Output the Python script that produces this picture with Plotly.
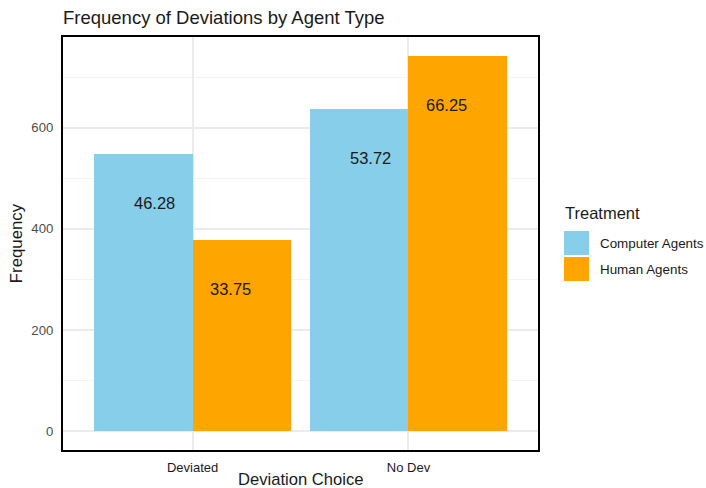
import plotly.graph_objects as go

categories = ["Deviated", "No Dev"]
treatments = ["Computer Agents", "Human Agents"]
computer_counts = [548, 636]
human_counts = [378, 742]
computer_pct = ["46.28", "53.72"]
human_pct = ["33.75", "66.25"]
colors = ["#87CEEB", "#FFA500"]

W, H = 706, 488
ML, MR, MT, MB = 63, 168, 37, 38
PW, PH = W - ML - MR, H - MT - MB


def px_x(px):
    return (px - ML) / PW


def px_y(py):
    return (H - MB - py) / PH


xpos = [0, 1]
offsets = [-0.2275, 0.2275]
label_offsets = [-0.177, 0.177]

fig = go.Figure()
series = [computer_counts, human_counts]
pcts = [computer_pct, human_pct]
for i, (name, vals) in enumerate(zip(treatments, series)):
    fig.add_trace(go.Bar(
        x=[p + offsets[i] for p in xpos], y=vals, name=name,
        width=0.455, marker=dict(color=colors[i], line=dict(width=0)),
        showlegend=False,
    ))
    for p, v, t in zip(xpos, vals, pcts[i]):
        fig.add_annotation(x=p + label_offsets[i], y=v, yshift=-49, text=t,
                           showarrow=False, yanchor="middle", xanchor="center",
                           font=dict(size=16.5, color="#1a1a1a"))

# manual legend (ggplot style, large keys)
fig.add_annotation(xref="paper", yref="paper", x=px_x(563), y=px_y(213),
                   text="Treatment", showarrow=False, xanchor="left", yanchor="middle",
                   font=dict(size=16.5, color="#1a1a1a"))
key_top = 230
key_h = 26
for i, name in enumerate(treatments):
    y0 = key_top + i * key_h
    fig.add_shape(type="rect", xref="paper", yref="paper",
                  x0=px_x(564), x1=px_x(589), y0=px_y(y0 + 1), y1=px_y(y0 + key_h - 1),
                  fillcolor=colors[i], line=dict(width=0))
    fig.add_annotation(xref="paper", yref="paper", x=px_x(598), y=px_y(y0 + key_h / 2),
                       text=name, showarrow=False, xanchor="left", yanchor="middle",
                       font=dict(size=13.4, color="#1a1a1a"))

# x-axis title
fig.add_annotation(xref="paper", yref="paper", x=0.5, y=px_y(479.5),
                   text="Deviation Choice", showarrow=False, xanchor="center", yanchor="middle",
                   font=dict(size=16.6, color="#1a1a1a"))

ymax = max(max(computer_counts), max(human_counts))
fig.update_layout(
    width=W, height=H,
    margin=dict(l=ML, r=MR, t=MT, b=MB),
    paper_bgcolor="white", plot_bgcolor="white",
    font=dict(family="Liberation Sans, Arial, sans-serif"),
    title=dict(text="Frequency of Deviations by Agent Type", xref="paper", x=0, xanchor="left",
               y=1 - 18 / H, yanchor="middle",
               font=dict(size=18.5, color="#1a1a1a")),
    barmode="overlay", bargap=0,
    showlegend=False,
)
fig.update_xaxes(
    range=[-0.6, 1.6], tickmode="array", tickvals=xpos, ticktext=categories,
    showgrid=True, gridcolor="#ebebeb", gridwidth=1.5,
    showline=True, linecolor="black", linewidth=2, mirror=True,
    ticks="outside", ticklen=4, tickcolor="rgba(0,0,0,0)",
    tickfont=dict(size=13, color="#1a1a1a"),
    zeroline=False, automargin=False,
)
fig.update_yaxes(
    range=[-0.05 * ymax, 1.05 * ymax], tickmode="array", tickvals=[0, 200, 400, 600],
    showgrid=True, gridcolor="#ebebeb", gridwidth=1.5,
    minor=dict(tickmode="array", tickvals=[100, 300, 500, 700], showgrid=True,
               gridcolor="#f3f3f3", gridwidth=1, ticks=""),
    showline=True, linecolor="black", linewidth=2, mirror=True,
    ticks="outside", ticklen=5, tickcolor="rgba(0,0,0,0)",
    tickfont=dict(size=13.2, color="#4d4d4d"),
    title=dict(text="Frequency", font=dict(size=16.8, color="#1a1a1a"), standoff=4),
    zeroline=False, automargin=False,
)
fig.write_html("out.html", config={"displayModeBar": False},
               post_script="document.body.style.margin='0';")
